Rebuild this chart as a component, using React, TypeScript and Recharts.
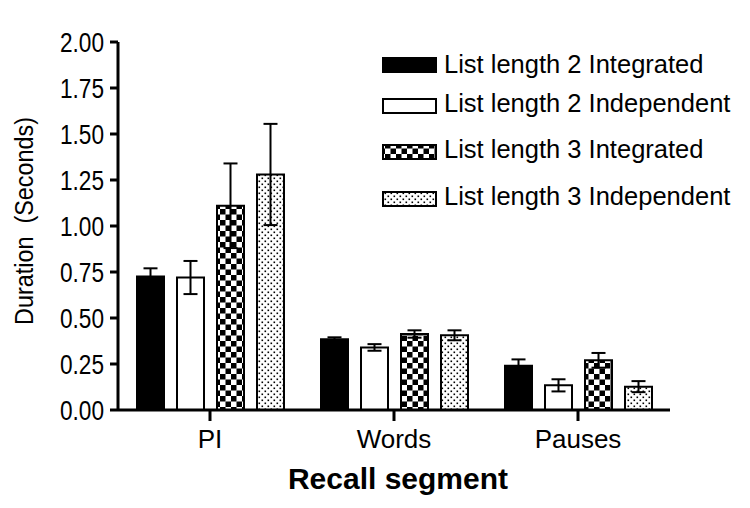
import React from 'react';
import { BarChart, Bar, XAxis, YAxis, ErrorBar, Legend } from 'recharts';

const categories = ['PI', 'Words', 'Pauses'];
const l2Integrated = [0.725, 0.385, 0.24];
const l2IntegratedErr = [0.045, 0.01, 0.035];
const l2Independent = [0.72, 0.34, 0.134];
const l2IndependentErr = [0.09, 0.018, 0.033];
const l3Integrated = [1.11, 0.413, 0.27];
const l3IntegratedErr = [0.23, 0.02, 0.04];
const l3Independent = [1.28, 0.406, 0.127];
const l3IndependentErr = [0.275, 0.027, 0.03];
const yTicks = [0, 0.25, 0.5, 0.75, 1, 1.25, 1.5, 1.75, 2];

const seriesNames = [
  'List length 2 Integrated',
  'List length 2 Independent',
  'List length 3 Integrated',
  'List length 3 Independent',
];

const data = categories.map((c, i) => ({
  name: c,
  a: l2Integrated[i],
  aErr: l2IntegratedErr[i],
  b: l2Independent[i],
  bErr: l2IndependentErr[i],
  c: l3Integrated[i],
  cErr: l3IntegratedErr[i],
  d: l3Independent[i],
  dErr: l3IndependentErr[i],
}));

const FONT = '"Liberation Sans", Arial, Helvetica, sans-serif';
const fills = ['#000', '#fff', 'url(#checker)', 'url(#dots)'];

const renderLegend = () => {
  const rows = [
    { top: 58, base: 73 },
    { top: 99, base: 112 },
    { top: 145, base: 158 },
    { top: 192, base: 205 },
  ];
  return (
    <svg width={750} height={230} style={{ display: 'block' }}>
      {rows.map((r, i) => (
        <g key={i}>
          <rect x={383} y={r.top} width={53} height={14} fill={fills[i]} stroke="#000" strokeWidth={2} />
          <text x={444} y={r.base} fontFamily={FONT} fontSize={25.5} fill="#000">
            {seriesNames[i]}
          </text>
        </g>
      ))}
    </svg>
  );
};

const YTick = (props: any) => {
  const { x, y, payload } = props;
  return (
    <text
      x={x}
      y={y}
      dy="0.355em"
      textAnchor="end"
      fontFamily={FONT}
      fontSize={28}
      fill="#000"
      textLength={44}
      lengthAdjust="spacingAndGlyphs"
    >
      {Number(payload.value).toFixed(2)}
    </text>
  );
};

export default function App() {
  return (
    <div style={{ position: 'absolute', left: 0, top: 0, width: 750, height: 508, background: '#fff' }}>
      <BarChart
        width={750}
        height={508}
        data={data}
        margin={{ top: 42, right: 80, bottom: 0, left: 0 }}
        barCategoryGap={19}
        barGap={13}
      >
        <defs>
          <pattern id="checker" patternUnits="userSpaceOnUse" width={11} height={11}>
            <rect x={0} y={0} width={11} height={11} fill="#fff" />
            <rect x={0} y={0} width={5.5} height={5.5} fill="#000" />
            <rect x={5.5} y={5.5} width={5.5} height={5.5} fill="#000" />
          </pattern>
          <pattern id="dots" patternUnits="userSpaceOnUse" width={6} height={6}>
            <rect x={0} y={0} width={6} height={6} fill="#fff" />
            <rect x={0.5} y={0.5} width={1.6} height={1.6} fill="#000" />
            <rect x={3.5} y={3.5} width={1.6} height={1.6} fill="#000" />
          </pattern>
        </defs>
        <XAxis
          dataKey="name"
          height={98}
          axisLine={{ stroke: '#000', strokeWidth: 3 }}
          tickLine={{ stroke: '#000', strokeWidth: 3 }}
          tickSize={11}
          tickMargin={9}
          tick={{ fill: '#000', fontSize: 26, fontFamily: FONT }}
          label={{
            content: (props: any) => {
              const vb = props.viewBox || { x: 118, width: 552 };
              return (
                <text
                  x={vb.x + vb.width / 2 + 4}
                  y={489}
                  textAnchor="middle"
                  fontFamily={FONT}
                  fontSize={30}
                  fontWeight="bold"
                  fill="#000"
                >
                  Recall segment
                </text>
              );
            },
          }}
        />
        <YAxis
          width={118}
          domain={[0, 2]}
          ticks={yTicks}
          interval={0}
          allowDataOverflow
          axisLine={{ stroke: '#000', strokeWidth: 3 }}
          tickLine={{ stroke: '#000', strokeWidth: 3 }}
          tickSize={8}
          tickMargin={6}
          tick={<YTick />}
          label={{
            content: () => (
              <text
                x={33}
                y={221}
                transform="rotate(-90 33 221)"
                textAnchor="middle"
                fontFamily={FONT}
                fontSize={25}
                fill="#000"
                textLength={208}
                lengthAdjust="spacingAndGlyphs"
                style={{ whiteSpace: 'pre' }}
              >
                {'Duration  (Seconds)'}
              </text>
            ),
          }}
        />
        <Legend
          layout="horizontal"
          verticalAlign="middle"
          align="center"
          content={renderLegend}
          wrapperStyle={{ position: 'absolute', left: 0, top: 0, width: 750, height: 230 }}
        />
        <Bar dataKey="a" name={seriesNames[0]} fill={fills[0]} stroke="#000" strokeWidth={2} isAnimationActive={false}>
          <ErrorBar dataKey="aErr" direction="y" width={7} stroke="#000" strokeWidth={2} />
        </Bar>
        <Bar dataKey="b" name={seriesNames[1]} fill={fills[1]} stroke="#000" strokeWidth={2} isAnimationActive={false}>
          <ErrorBar dataKey="bErr" direction="y" width={7} stroke="#000" strokeWidth={2} />
        </Bar>
        <Bar dataKey="c" name={seriesNames[2]} fill={fills[2]} stroke="#000" strokeWidth={2} isAnimationActive={false}>
          <ErrorBar dataKey="cErr" direction="y" width={7} stroke="#000" strokeWidth={2} />
        </Bar>
        <Bar dataKey="d" name={seriesNames[3]} fill={fills[3]} stroke="#000" strokeWidth={2} isAnimationActive={false}>
          <ErrorBar dataKey="dErr" direction="y" width={7} stroke="#000" strokeWidth={2} />
        </Bar>
      </BarChart>
    </div>
  );
}
